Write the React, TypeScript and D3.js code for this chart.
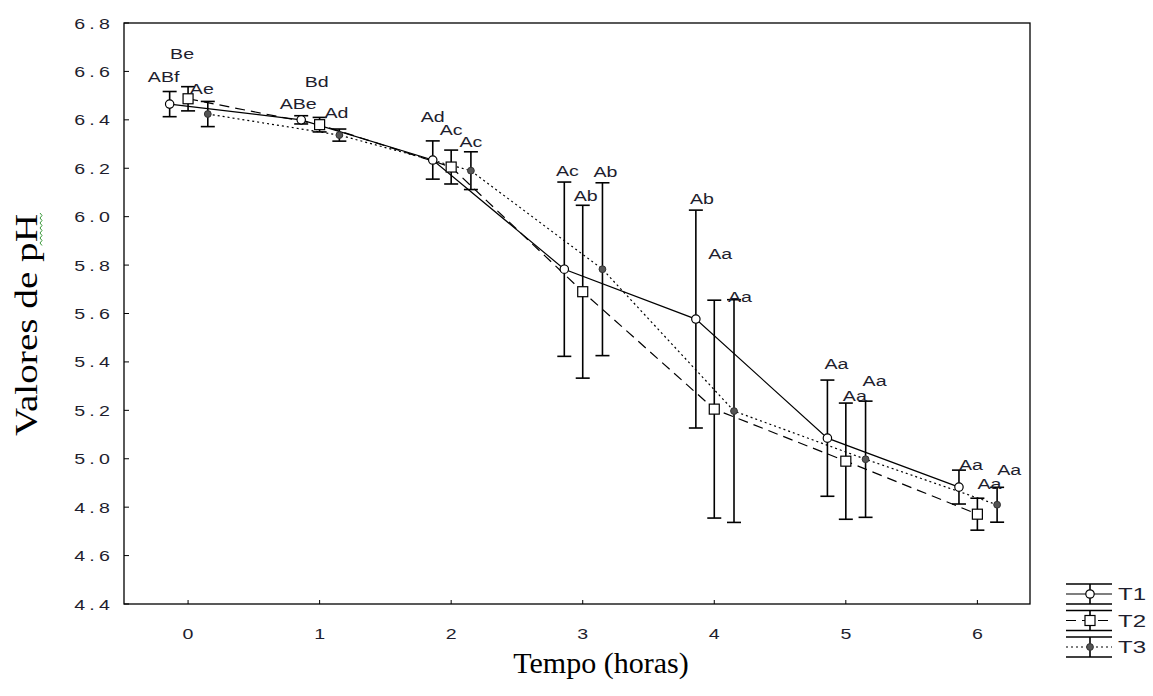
import React from "react";
import * as d3 from "d3";

// ---------- data ----------
const hours = [0, 1, 2, 3, 4, 5, 6];
const yTicks = [4.4, 4.6, 4.8, 5.0, 5.2, 5.4, 5.6, 5.8, 6.0, 6.2, 6.4, 6.6, 6.8];

const t1Mean = [6.465, 6.40, 6.234, 5.783, 5.577, 5.085, 4.883];
const t1Err = [0.052, 0.017, 0.079, 0.36, 0.45, 0.24, 0.07];
const t1Labels = ["ABf", "ABe", "Ad", "Ac", "Ab", "Aa", "Aa"];
const t1LabelPH = [6.577, 6.465, 6.41, 6.188, 6.072, 5.391, 4.973];

const t2Mean = [6.487, 6.38, 6.205, 5.69, 5.205, 4.99, 4.771];
const t2Err = [0.05, 0.03, 0.07, 0.357, 0.45, 0.24, 0.066];
const t2Labels = ["Be", "Bd", "Ac", "Ab", "Aa", "Aa", "Aa"];
const t2LabelPH = [6.672, 6.556, 6.358, 6.085, 5.845, 5.259, 4.895];

const t3Mean = [6.424, 6.337, 6.19, 5.783, 5.197, 4.998, 4.81];
const t3Err = [0.052, 0.025, 0.078, 0.357, 0.46, 0.24, 0.072];
const t3Labels = ["Ae", "Ad", "Ac", "Ab", "Aa", "Aa", "Aa"];
const t3LabelPH = [6.527, 6.428, 6.308, 6.184, 5.668, 5.321, 4.953];

const seriesNames = ["T1", "T2", "T3"];

// ---------- layout ----------
const W = 1153, H = 696;
const L = 124, R = 1030, T = 23, B = 604;
const SANS = "'Liberation Sans', Arial, sans-serif";
const SERIF = "'Liberation Serif', 'Times New Roman', serif";
const TXT = "#1e1e2e";

const x = d3.scaleLinear().domain([-0.487, 6.4]).range([L, R]);
const y = d3.scaleLinear().domain([4.4, 6.8]).range([B, T]);

function SText({ x, y, sx = 1.4, anchor = "middle", size = 14, spacing = 0, children }: any) {
  return (
    <text
      transform={`translate(${x},${y}) scale(${sx},1)`}
      textAnchor={anchor}
      dominantBaseline="central"
      fontFamily={SANS}
      fontSize={size}
      letterSpacing={spacing}
      fill={TXT}
    >
      {children}
    </text>
  );
}

const series = [
  { name: seriesNames[0], mean: t1Mean, err: t1Err, labels: t1Labels, lab: t1LabelPH, dx: -0.14, dash: "none", marker: "circle" },
  { name: seriesNames[1], mean: t2Mean, err: t2Err, labels: t2Labels, lab: t2LabelPH, dx: 0, dash: "10,6", marker: "square" },
  { name: seriesNames[2], mean: t3Mean, err: t3Err, labels: t3Labels, lab: t3LabelPH, dx: 0.15, dash: "2,3", marker: "dot" },
];

function Marker({ kind, cx, cy }: any) {
  if (kind === "circle") return <circle cx={cx} cy={cy} r={4.2} fill="#fff" stroke="#000" strokeWidth={1.2} />;
  if (kind === "square") return <rect x={cx - 5} y={cy - 5} width={10} height={10} fill="#fff" stroke="#000" strokeWidth={1.2} />;
  return <circle cx={cx} cy={cy} r={3.4} fill="#555" stroke="#333" strokeWidth={1} />;
}

export default function App() {
  const line = d3.line<[number, number]>().x((d) => d[0]).y((d) => d[1]);
  const cap = 7;
  return (
    <svg width={W} height={H} style={{ position: "absolute", left: 0, top: 0, background: "#fff" }}>
      <rect x={0} y={0} width={W} height={H} fill="#fff" />
      {/* frame */}
      <rect x={L} y={T} width={R - L} height={B - T} fill="none" stroke="#000" strokeWidth={1.3} />
      {/* y ticks */}
      {yTicks.map((v) => (
        <g key={v}>
          <line x1={L} x2={L + 5} y1={y(v)} y2={y(v)} stroke="#000" strokeWidth={1} />
          <SText x={110 + 4} y={y(v) + 1} anchor="end" spacing={3}>{v.toFixed(1)}</SText>
        </g>
      ))}
      {/* x ticks */}
      {hours.map((h) => (
        <g key={h}>
          <line x1={x(h)} x2={x(h)} y1={B} y2={B - 4} stroke="#000" strokeWidth={1} />
          <SText x={x(h)} y={634}>{String(h)}</SText>
        </g>
      ))}
      {/* axis titles */}
      <text x={601} y={662} textAnchor="middle" dominantBaseline="central" fontFamily={SERIF} fontSize={30} fill="#000">
        Tempo (horas)
      </text>
      <text
        transform={`translate(37,325) rotate(-90)`}
        textAnchor="middle"
        fontFamily={SERIF}
        fontSize={32}
        textLength={222}
        lengthAdjust="spacingAndGlyphs"
        fill="#000"
      >
        Valores de pH
      </text>
      <path d="M40,213 l2,2.5 l-2,2.5 l2,2.5 l-2,2.5 l2,2.5 l-2,2.5 l2,2.5 l-2,2.5 l2,2.5 l-2,2.5 l2,2.5 l-2,2.5 l2,2.5" fill="none" stroke="#3a9a3a" strokeWidth={1} />

      {/* lines */}
      {series.map((s) => (
        <path
          key={s.name + "l"}
          d={line(hours.map((h, i) => [x(h + s.dx), y(s.mean[i])]) as any) || ""}
          fill="none"
          stroke="#000"
          strokeWidth={1.2}
          strokeDasharray={s.dash}
        />
      ))}
      {/* error bars */}
      {series.map((s) =>
        hours.map((h, i) => {
          const cx = x(h + s.dx);
          const y1 = y(s.mean[i] + s.err[i]);
          const y2 = y(s.mean[i] - s.err[i]);
          return (
            <g key={s.name + "e" + i} stroke="#000" strokeWidth={1.6}>
              <line x1={cx} x2={cx} y1={y1} y2={y2} />
              <line x1={cx - cap} x2={cx + cap} y1={y1} y2={y1} />
              <line x1={cx - cap} x2={cx + cap} y1={y2} y2={y2} />
            </g>
          );
        })
      )}
      {/* markers */}
      {series.map((s) =>
        hours.map((h, i) => <Marker key={s.name + "m" + i} kind={s.marker} cx={x(h + s.dx)} cy={y(s.mean[i])} />)
      )}
      {/* letter labels */}
      {series.map((s) =>
        hours.map((h, i) => (
          <SText key={s.name + "t" + i} x={x(h + s.dx) - 6 + 3 * i} y={y(s.lab[i])}>
            {s.labels[i]}
          </SText>
        ))
      )}

      {/* legend */}
      {series.map((s, k) => {
        const cy = 594 + k * 26.5;
        const x0 = 1066, x1 = 1112, xm = 1090;
        return (
          <g key={s.name + "leg"}>
            <line x1={x0} x2={x1} y1={cy - 10} y2={cy - 10} stroke="#000" strokeWidth={1.6} />
            <line x1={x0} x2={x1} y1={cy + 10} y2={cy + 10} stroke="#000" strokeWidth={1.6} />
            <line x1={xm} x2={xm} y1={cy - 10} y2={cy + 10} stroke="#000" strokeWidth={1.6} />
            <line x1={x0} x2={x1} y1={cy} y2={cy} stroke="#000" strokeWidth={1.2} strokeDasharray={s.dash} />
            <Marker kind={s.marker} cx={xm} cy={cy} />
            <SText x={1118} y={cy + 1} anchor="start" size={16} sx={1.5}>{s.name}</SText>
          </g>
        );
      })}
    </svg>
  );
}
